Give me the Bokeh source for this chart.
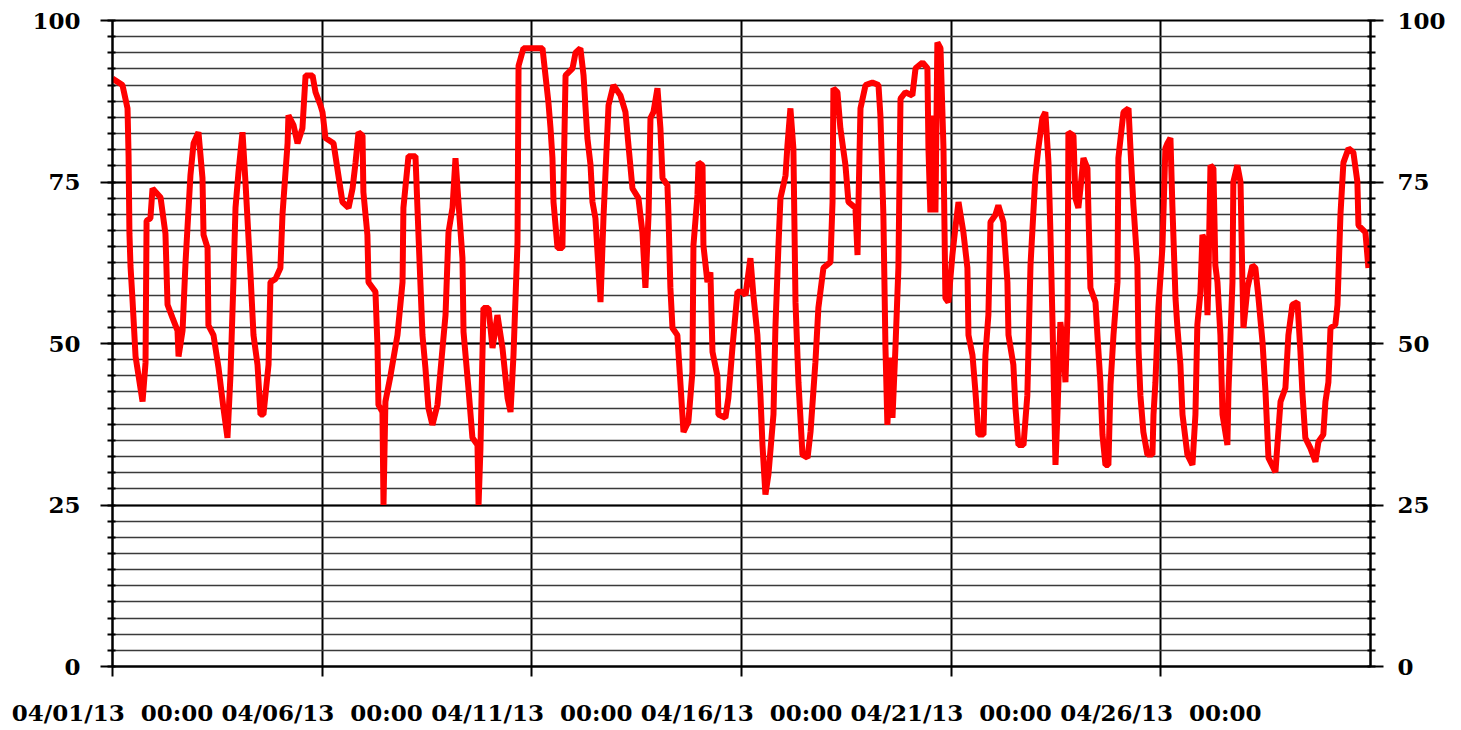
import datetime as dt
from bokeh.plotting import figure
from bokeh.models import FixedTicker, LinearAxis, DatetimeTickFormatter, Range1d
from bokeh.embed import file_html
from bokeh.resources import INLINE

# ---- data: hours after 04/01/13 00:00, and the plotted value ----
hours = [
    0, 5.7, 8.6, 9.2, 9.7, 10.3, 11.4, 13.2, 17.2, 18.9, 19.5, 21.7, 22.9, 27.5, 30.3, 31.5,
    34.3, 37.2, 37.8, 40.1, 41.8, 44.6, 46.4, 49.2, 51.5, 52.1, 54.4, 54.9, 57.8, 60.7, 63.5,
    65.8, 67.5, 69.2, 70.4, 72.1, 74.4, 76.1, 79.0, 80.7, 83.0, 84.7, 86.4, 89.3, 90.4, 93.3,
    96.1, 97.3, 100.2, 100.7, 103.6, 105.9, 108.7, 110.5, 114.5, 116.2, 119.0, 120.2, 121.9,
    126.5, 129.3, 131.6, 135.1, 137.4, 139.1, 140.8, 143.1, 143.6, 145.9, 146.5, 150.5, 151.7,
    152.2, 154.5, 155.1, 156.2, 159.1, 163.1, 166.0, 166.5, 169.4, 173.4, 175.1, 177.4, 179.1,
    180.8, 183.1, 186.0, 188.9, 190.6, 192.3, 194.6, 196.3, 198.0, 200.3, 200.9, 203.7, 206.0,
    208.9, 209.5, 210.6, 212.3, 215.2, 217.5, 220.3, 223.2, 226.1, 227.8, 229.5, 231.8, 232.4,
    235.2, 246.1, 247.8, 249.5, 250.7, 251.8, 252.4, 254.7, 257.5, 258.1, 259.3, 263.3, 265.0,
    267.8, 269.6, 271.8, 273.6, 274.7, 276.4, 279.3, 281.0, 283.9, 286.7, 290.7, 293.6, 295.3,
    297.6, 301.0, 303.3, 305.0, 306.8, 307.9, 309.6, 311.9, 313.6, 314.8, 317.6, 318.2, 319.3,
    320.5, 323.3, 325.1, 326.8, 329.6, 331.9, 332.5, 334.8, 335.4, 337.7, 338.2, 340.5, 342.2,
    343.4, 346.2, 346.8, 350.8, 352.5, 354.8, 357.7, 360.5, 362.3, 365.1, 366.8, 369.1, 370.9,
    372.0, 373.7, 375.4, 378.3, 379.4, 381.1, 382.3, 385.2, 386.3, 388.0, 389.7, 390.9, 392.6,
    394.9, 397.8, 399.5, 402.3, 404.0, 406.9, 410.9, 412.1, 412.6, 414.9, 416.6, 419.5, 421.2,
    425.2, 426.4, 426.9, 428.1, 431.0, 434.9, 438.4, 439.5, 441.2, 442.4, 443.5, 445.2, 446.4,
    448.1, 449.8, 451.0, 453.8, 457.8, 459.6, 463.6, 466.4, 467.0, 468.1, 469.9, 471.0, 472.1,
    473.9, 475.6, 476.7, 478.4, 480.7, 482.4, 484.2, 487.0, 489.3, 489.9, 492.2, 493.9, 495.6,
    498.5, 499.6, 501.3, 502.5, 505.3, 507.0, 509.9, 512.2, 512.8, 515.6, 516.8, 518.5, 521.4,
    523.6, 525.4, 528.2, 529.9, 532.2, 533.9, 535.7, 536.8, 538.0, 539.7, 540.8, 542.5, 544.3,
    545.4, 546.6, 547.1, 550.0, 551.1, 552.8, 554.0, 555.7, 558.0, 558.6, 559.7, 562.6, 563.7,
    565.4, 566.6, 568.3, 570.0, 571.2, 572.9, 575.2, 575.7, 578.6, 581.5, 582.6, 584.3, 586.6,
    587.2, 588.3, 590.0, 592.3, 595.2, 595.8, 596.9, 598.6, 600.9, 602.6, 603.8, 605.5, 606.6,
    608.4, 609.5, 611.2, 612.4, 615.2, 618.1, 619.8, 620.9, 622.7, 623.8, 625.5, 626.7, 627.2,
    628.4, 630.1, 631.2, 632.4, 634.1, 635.3, 638.1, 638.7, 641.0, 641.5, 643.8, 645.6, 646.7,
    647.3, 649.6, 652.4, 654.1, 655.9, 658.2, 659.9, 661.6, 665.6, 668.5, 671.3, 673.0, 675.3,
    678.2, 679.9, 681.0, 682.7, 685.6, 688.5, 690.2, 693.0, 694.2, 695.9, 697.1, 699.9, 701.1,
    702.8, 704.5, 707.4, 710.2, 712.5, 713.1, 717.1, 718.8,
]
values = [
    91, 90, 86.4, 79, 67, 62, 57, 48, 41, 47, 69, 69.4, 74, 72.6, 67, 56,
    54, 52, 48, 52, 62.6, 76, 81, 82.7, 75.6, 66.8, 64.8, 52.8, 51.3, 46.2, 40,
    35.4, 45, 59.5, 71, 76.5, 82.7, 75, 60.6, 51.3, 46.7, 39, 39, 46.7, 59.5, 60,
    61.7, 70, 81, 85.3, 83.8, 81, 83.3, 91.5, 91.5, 88.9, 86.9, 85.8, 81.8,
    81, 76, 71.9, 71, 74, 78, 82.7, 82.2, 73.4, 66.8, 59.5, 58, 49.3,
    40.5, 39.4, 25, 41, 45, 51.3, 59.5, 71, 79, 79, 67, 51.3, 46.2,
    40, 37.4, 40.5, 49.3, 54.4, 67.2, 71, 78.7, 71.9, 63.2, 51.8, 43.1, 35.4,
    34.3, 25, 33.8, 55.5, 55.5, 49.3, 54.4, 49.3, 41.6, 39.4, 48.2, 65.7, 93,
    95.7, 95.7, 91.5, 87.3, 83.3, 78.7, 71.9, 64.8, 64.8, 74, 91.5, 92.6, 95,
    95.7, 91.5, 81.8, 77.6, 71.9, 69.4, 56.4, 69.4, 86.9, 90, 88.4, 85.8, 80.7,
    74, 72.5, 67.2, 58.6, 69.9, 84.9, 85.8, 89.5, 83.3, 75.6, 74.5, 69.9, 58.6,
    52.4, 51.3, 43.6, 36.3, 37.9, 45.6, 65.2, 73, 78, 77.6, 65.2, 59.5, 61,
    48.7, 45, 39, 38.5, 41.6, 49.3, 58, 58, 57.5, 63.2, 57.5, 51.3, 41.6,
    34.3, 26.6, 29.7, 39, 52.4, 64.8, 72.5, 76, 80.7, 86.4, 80.2, 56.4, 44,
    32.8, 32.3, 36.3, 47.1, 55.5, 61.7, 62.6, 71.9, 89.5, 88.9, 83.3, 77.6, 71.9,
    71, 63.7, 71, 86.4, 90, 90.4, 90, 85.3, 69.9, 49.3, 37.4, 47.8, 38.5,
    49.3, 61.7, 87.9, 88.9, 88.4, 92.6, 93.5, 92.6, 80.2, 70.3, 85.3, 70.3, 96.6,
    95.7, 80.2, 57, 56.4, 63.7, 67.9, 71.9, 67.2, 61.7, 51.3, 48.2, 42.5, 35.9,
    35.9, 48.2, 54.4, 68.8, 69.9, 71.4, 68.8, 59.5, 51.3, 46.7, 40, 34.3, 34.3,
    42, 62.1, 76, 80.2, 84.9, 85.8, 78, 67.2, 53.3, 31.2, 39, 53.3, 49.3,
    44, 54.4, 82.7, 82.2, 72.5, 71, 74, 78.7, 77.1, 69.9, 58.6, 56.4, 51.3,
    44, 35.9, 31.2, 31.2, 43.6, 51.3, 59.5, 78.7, 85.8, 86.4, 80.2, 71.4, 62.1,
    49.3, 42, 36.3, 32.8, 32.8, 39, 44, 55.5, 64.8, 80.2, 81, 81.8, 71.4,
    57, 52.4, 46.7, 39, 32.8, 31.2, 39, 52.9, 58, 66.8, 65.7, 54.4, 59.5,
    77.6, 77.1, 62.1, 59.5, 51.3, 39, 34.3, 42.5, 59.5, 75, 77.6, 75, 59.5,
    52.4, 58.6, 62.1, 61.7, 57, 50.2, 42.5, 32.3, 30.1, 41, 43.1, 51.3, 56,
    56.4, 48.7, 42.5, 35.4, 33.8, 31.7, 34.8, 35.9, 41, 44, 52.4, 52.9, 56,
    69.9, 78, 80.2, 79.6, 75, 68.3, 67.2, 61.7,
]

start = dt.datetime(2013, 4, 1)
end = dt.datetime(2013, 5, 1)
x_tick_days = [0, 5, 10, 15, 20, 25]
y_major = [0, 25, 50, 75, 100]
y_minor = [i * 2.5 for i in range(41)]

times = [start + dt.timedelta(hours=h) for h in hours]
epoch = dt.datetime(1970, 1, 1)
x_ticks_ms = [((start + dt.timedelta(days=d)) - epoch).total_seconds() * 1000 for d in x_tick_days]

p = figure(width=1453, height=728, x_axis_type="datetime",
           output_backend="svg", toolbar_location=None,
           x_range=Range1d(start, end), y_range=Range1d(0, 100),
           min_border_left=112, min_border_right=83, min_border_top=20, min_border_bottom=61)
p.background_fill_color = "white"
p.border_fill_color = "white"
p.outline_line_color = "black"
p.outline_line_width = 2

p.line(times, values, line_color="#ff0000", line_width=6)

# x axis
p.xaxis.ticker = FixedTicker(ticks=x_ticks_ms, minor_ticks=[])
fmt = "%m/%d/%y\u00a0\u00a0%H:%M"
p.xaxis.formatter = DatetimeTickFormatter(
    milliseconds=fmt, seconds=fmt, minsec=fmt, minutes=fmt, hourmin=fmt,
    hours=fmt, days=fmt, months=fmt, years=fmt)
p.xaxis.axis_line_color = "black"
p.xaxis.axis_line_width = 2
p.xaxis.major_tick_line_color = "black"
p.xaxis.major_tick_line_width = 2
p.xaxis.major_tick_out = 10
p.xaxis.major_tick_in = 0
p.xaxis.minor_tick_line_color = None
p.xaxis.major_label_text_font = "DejaVu Serif"
p.xaxis.major_label_text_font_style = "bold"
p.xaxis.major_label_text_font_size = "23px"
p.xaxis.major_label_text_color = "black"
p.xaxis.major_label_standoff = 22

# y axes
yticker = FixedTicker(ticks=y_major, minor_ticks=y_minor)
def style_y(ax, tick_out, standoff):
    ax.ticker = yticker
    ax.axis_line_color = "black"
    ax.axis_line_width = 2
    ax.major_tick_line_color = "black"
    ax.major_tick_line_width = 2
    ax.major_tick_out = tick_out
    ax.major_tick_in = 0
    ax.minor_tick_line_color = "black"
    ax.minor_tick_line_width = 2
    ax.minor_tick_out = 5
    ax.minor_tick_in = 3
    ax.major_label_text_font = "DejaVu Serif"
    ax.major_label_text_font_style = "bold"
    ax.major_label_text_font_size = "23px"
    ax.major_label_text_color = "black"
    ax.major_label_standoff = standoff

style_y(p.yaxis[0], 12, 20)
right = LinearAxis()
style_y(right, 13, 14)
p.add_layout(right, "right")

# grids
p.xgrid.ticker = FixedTicker(ticks=x_ticks_ms, minor_ticks=[])
p.xgrid.grid_line_color = "black"
p.xgrid.grid_line_width = 2
p.ygrid.ticker = yticker
p.ygrid.grid_line_color = "black"
p.ygrid.grid_line_width = 2
p.ygrid.minor_grid_line_color = "#3a3a3a"
p.ygrid.minor_grid_line_width = 1.5

open("out.html", "w").write(file_html(p, INLINE))
